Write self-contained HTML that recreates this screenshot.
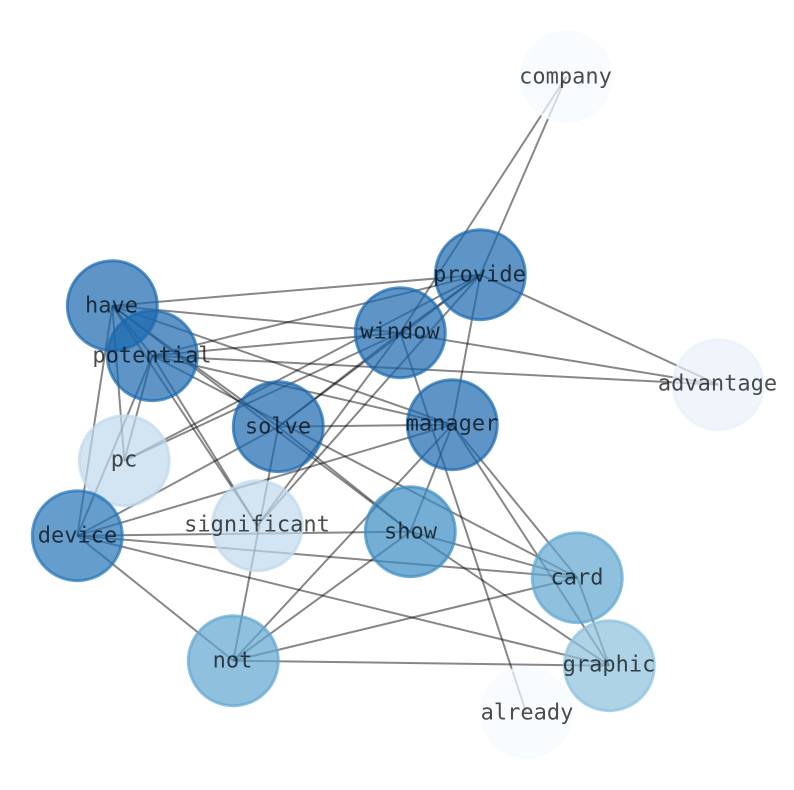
<!DOCTYPE html>
<html><head><meta charset="utf-8"><style>
html,body{margin:0;padding:0;background:#fff}
svg{display:block}
text{font-family:"DejaVu Sans Mono","Liberation Mono",monospace;font-size:22px;fill:#000;fill-opacity:.7;text-anchor:middle;dominant-baseline:central}
line{stroke:#000;stroke-opacity:.47;stroke-width:2}
circle{stroke-width:3;fill-opacity:.7;stroke-opacity:.7}
</style></head><body>
<svg width="794" height="790" viewBox="0 0 794 790" xmlns="http://www.w3.org/2000/svg">
<g transform="translate(0.3,0.7)">
<line x1="566" y1="76" x2="480" y2="274"/>
<line x1="566" y1="76" x2="400" y2="332"/>
<line x1="480" y1="274" x2="400" y2="332"/>
<line x1="480" y1="274" x2="112" y2="305"/>
<line x1="480" y1="274" x2="152" y2="355"/>
<line x1="480" y1="274" x2="718" y2="384"/>
<line x1="480" y1="274" x2="452" y2="424"/>
<line x1="480" y1="274" x2="278" y2="426"/>
<line x1="480" y1="274" x2="124" y2="460"/>
<line x1="480" y1="274" x2="257" y2="525"/>
<line x1="400" y1="332" x2="112" y2="305"/>
<line x1="400" y1="332" x2="152" y2="355"/>
<line x1="400" y1="332" x2="718" y2="384"/>
<line x1="400" y1="332" x2="278" y2="426"/>
<line x1="400" y1="332" x2="124" y2="460"/>
<line x1="400" y1="332" x2="257" y2="525"/>
<line x1="400" y1="332" x2="526" y2="712"/>
<line x1="112" y1="305" x2="152" y2="355"/>
<line x1="112" y1="305" x2="452" y2="424"/>
<line x1="112" y1="305" x2="124" y2="460"/>
<line x1="112" y1="305" x2="77" y2="535"/>
<line x1="112" y1="305" x2="257" y2="525"/>
<line x1="112" y1="305" x2="410" y2="531"/>
<line x1="112" y1="305" x2="278" y2="426"/>
<line x1="152" y1="355" x2="718" y2="384"/>
<line x1="152" y1="355" x2="452" y2="424"/>
<line x1="152" y1="355" x2="577" y2="577"/>
<line x1="152" y1="355" x2="257" y2="525"/>
<line x1="152" y1="355" x2="124" y2="460"/>
<line x1="152" y1="355" x2="77" y2="535"/>
<line x1="278" y1="426" x2="452" y2="424"/>
<line x1="278" y1="426" x2="77" y2="535"/>
<line x1="278" y1="426" x2="233" y2="660"/>
<line x1="278" y1="426" x2="410" y2="531"/>
<line x1="452" y1="424" x2="77" y2="535"/>
<line x1="452" y1="424" x2="410" y2="531"/>
<line x1="452" y1="424" x2="233" y2="660"/>
<line x1="452" y1="424" x2="577" y2="577"/>
<line x1="452" y1="424" x2="609" y2="665"/>
<line x1="77" y1="535" x2="410" y2="531"/>
<line x1="77" y1="535" x2="577" y2="577"/>
<line x1="77" y1="535" x2="609" y2="665"/>
<line x1="77" y1="535" x2="233" y2="660"/>
<line x1="410" y1="531" x2="577" y2="577"/>
<line x1="410" y1="531" x2="609" y2="665"/>
<line x1="410" y1="531" x2="233" y2="660"/>
<line x1="233" y1="660" x2="577" y2="577"/>
<line x1="233" y1="660" x2="609" y2="665"/>
<line x1="577" y1="577" x2="609" y2="665"/>
</g>
<g transform="translate(0.3,0.7)">
<circle cx="566" cy="76" r="45" fill="#f7fbff" stroke="#f7fbff"/>
<circle cx="480" cy="274" r="45" fill="#1a68ae" stroke="#1a68ae"/>
<circle cx="400" cy="332" r="45" fill="#1a68ae" stroke="#1a68ae"/>
<circle cx="112" cy="305" r="45" fill="#1a68ae" stroke="#1a68ae"/>
<circle cx="152" cy="355" r="45" fill="#1a68ae" stroke="#1a68ae"/>
<circle cx="718" cy="384" r="45" fill="#e8f1fa" stroke="#e8f1fa"/>
<circle cx="452" cy="424" r="45" fill="#1a68ae" stroke="#1a68ae"/>
<circle cx="278" cy="426" r="45" fill="#1a68ae" stroke="#1a68ae"/>
<circle cx="124" cy="460" r="45" fill="#c1d9ed" stroke="#c1d9ed"/>
<circle cx="257" cy="525" r="45" fill="#c1d9ed" stroke="#c1d9ed"/>
<circle cx="410" cy="531" r="45" fill="#3b8bc2" stroke="#3b8bc2"/>
<circle cx="77" cy="535" r="45" fill="#2474b6" stroke="#2474b6"/>
<circle cx="577" cy="577" r="45" fill="#5fa6d1" stroke="#5fa6d1"/>
<circle cx="233" cy="660" r="45" fill="#60a7d2" stroke="#60a7d2"/>
<circle cx="609" cy="665" r="45" fill="#8bc0dd" stroke="#8bc0dd"/>
<circle cx="526" cy="712" r="45" fill="#f7fbff" stroke="#f7fbff"/>
</g>
<g>
<text x="565.5" y="77">company</text>
<text x="479.5" y="275">provide</text>
<text x="400" y="332">window</text>
<text x="111.5" y="306">have</text>
<text x="152" y="356">potential</text>
<text x="717.5" y="384">advantage</text>
<text x="452" y="424">manager</text>
<text x="278" y="427">solve</text>
<text x="124" y="460">pc</text>
<text x="257" y="525">significant</text>
<text x="410.5" y="532">show</text>
<text x="77.5" y="536">device</text>
<text x="577" y="578">card</text>
<text x="232.5" y="661">not</text>
<text x="609" y="665">graphic</text>
<text x="527" y="713">already</text>
</g>
</svg>
</body></html>
